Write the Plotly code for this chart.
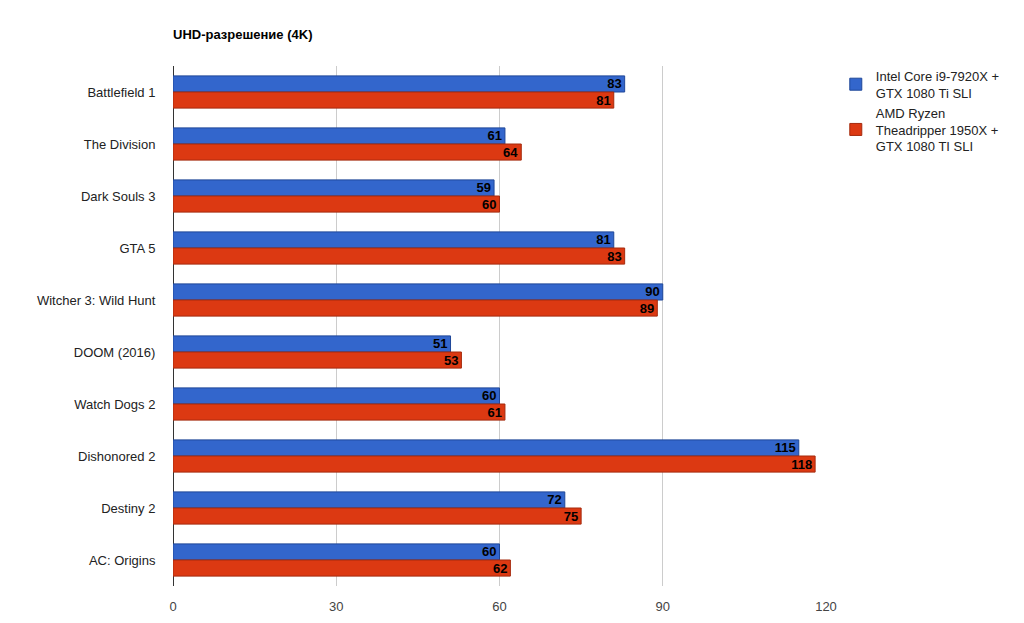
import plotly.graph_objects as go

games = ["Battlefield 1", "The Division", "Dark Souls 3", "GTA 5", "Witcher 3: Wild Hunt",
         "DOOM (2016)", "Watch Dogs 2", "Dishonored 2", "Destiny 2", "AC: Origins"]
intel = [83, 61, 59, 81, 90, 51, 60, 115, 72, 60]
amd = [81, 64, 60, 83, 89, 53, 61, 118, 75, 62]
names = ["Intel Core i9-7920X +<br>GTX 1080 Ti SLI",
         "AMD Ryzen<br>Theadripper 1950X +<br>GTX 1080 TI SLI"]
ticks = [0, 30, 60, 90, 120]

fig = go.Figure()
for vals, name, col, line in [(intel, names[0], "#3366cc", "#1f4799"), (amd, names[1], "#dc3912", "#a52a0d")]:
    fig.add_trace(go.Bar(y=games, x=vals, orientation="h", name=name,
                         marker=dict(color=col, line=dict(color=line, width=1)),
                         text=vals, textposition="inside", insidetextanchor="end", textangle=0,
                         textfont=dict(color="black", size=13, family="Liberation Sans", weight="bold"),
                         cliponaxis=False))
fig.update_layout(
    width=1024, height=623, barmode="group", bargap=0.38, bargroupgap=0,
    plot_bgcolor="white", paper_bgcolor="white",
    margin=dict(l=165, r=206, t=58, b=45),
    font=dict(family="Liberation Sans", size=13, color="#222"),
    title=dict(text="<b>UHD-разрешение (4K)</b>", x=165/1024, xanchor="left", y=0.965, font=dict(size=13, color="black")),
    legend=dict(x=1.015, y=1.01, xanchor="left", yanchor="top", font=dict(size=13, color="#222"), tracegroupgap=12,
                itemwidth=30),
    uniformtext=dict(mode="show", minsize=13),
)
fig.update_xaxes(range=[0, 120], tickvals=ticks, showgrid=True, gridcolor="#cccccc", automargin=False,
                 zeroline=True, zerolinecolor="#333", zerolinewidth=1, ticks="outside", ticklen=8, tickcolor="white",
                 tickfont=dict(color="#444"))
fig.update_yaxes(autorange="reversed", ticks="outside", ticklen=14, tickcolor="white", automargin=False,
                 tickfont=dict(color="#222"))
fig.write_html("out.html")
